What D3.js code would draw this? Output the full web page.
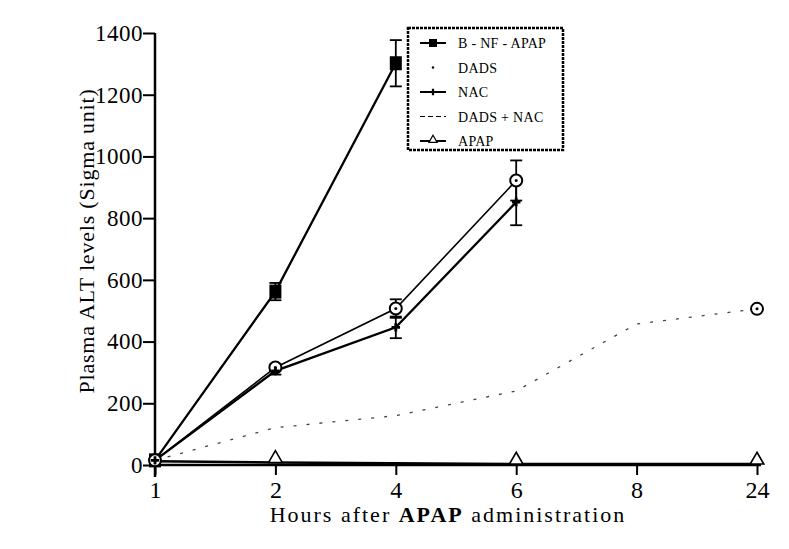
<!DOCTYPE html>
<html>
<head>
<meta charset="utf-8">
<script src="https://cdn.jsdelivr.net/npm/d3@7"></script>
<style>
  body { margin: 0; background: #fff; }
  text { font-family: "Liberation Serif", "DejaVu Serif", serif; fill: #000; }
</style>
</head>
<body>
<div id="chart"></div>
<script>
// Chart values
var hours = ["1", "2", "4", "6", "8", "24"];
var yTicks = [0, 200, 400, 600, 800, 1000, 1200, 1400];

var bnfHours = ["1", "2", "4"];
var bnfValues = [15, 562, 1302];
var bnfErr = [0, 28, 75];

var dadsHours = ["1", "2", "4", "6", "8", "24"];
var dadsValues = [15, 121, 160, 240, 457, 506];

var nacHours = ["1", "2", "4", "6"];
var nacValues = [15, 305, 446, 852];
var nacErr = [0, 12, 35, 75];

var dnHours = ["1", "2", "4", "6", "8", "24"];
var dnValues = [15, 316, 507, 922, null, 506];
var dnErr = [0, 10, 30, 65, 0, 0];

var apapHours = ["1", "2", "6", "24"];
var apapValues = [12, 8, 3, 3];

var legendNames = ["B - NF - APAP", "DADS", "NAC", "DADS + NAC", "APAP"];

// SVG and chart area
var svgWidth = 789;
var svgHeight = 549;
var margin = {top: 33, right: 32, bottom: 84, left: 155};
var width = svgWidth - margin.left - margin.right;
var height = svgHeight - margin.top - margin.bottom;

var svg = d3.select("#chart").append("svg")
  .attr("width", svgWidth).attr("height", svgHeight);

var chartGroup = svg.append("g")
  .attr("transform", `translate(${margin.left}, ${margin.top})`);

var xScale = d3.scalePoint().domain(hours).range([0, width]);
var yScale = d3.scaleLinear().domain([0, 1400]).range([height, 0]);

// axes
var xAxis = d3.axisBottom(xScale).tickSize(10).tickSizeOuter(0);
var yAxis = d3.axisLeft(yScale).tickValues(yTicks).tickFormat(d3.format("d"))
  .tickSize(12).tickSizeOuter(0);

var xAxisDraw = chartGroup.append("g")
  .attr("transform", `translate(0, ${height})`)
  .call(xAxis);
xAxisDraw.select(".domain").attr("stroke-width", 2.5).attr("d", `M-2,0H${width + 4}`);
xAxisDraw.selectAll(".tick line").attr("stroke-width", 2);
xAxisDraw.selectAll(".tick text").attr("font-size", "24px").attr("dy", "0.85em");

var yAxisDraw = chartGroup.append("g").call(yAxis);
yAxisDraw.select(".domain").attr("stroke-width", 2.5).attr("d", `M0,${height + 12}V0`);
yAxisDraw.selectAll(".tick line").attr("stroke-width", 2);
yAxisDraw.selectAll(".tick text").attr("font-size", "23px")
  .attr("letter-spacing", "0.5px")
  .attr("x", -12);

// axis titles
var xTitle = chartGroup.append("text")
  .attr("x", width / 2 - 8)
  .attr("y", height + 57)
  .attr("text-anchor", "middle")
  .attr("font-size", "22px")
  .attr("letter-spacing", "2px");
xTitle.append("tspan").text("Hours after ");
xTitle.append("tspan").attr("font-weight", "bold").text("APAP");
xTitle.append("tspan").text(" administration");

chartGroup.append("text")
  .attr("transform", "rotate(-90)")
  .attr("x", -height / 2 + 8)
  .attr("y", -margin.left + 94)
  .attr("text-anchor", "middle")
  .attr("font-size", "22px")
  .attr("letter-spacing", "0.8px")
  .text("Plasma ALT levels (Sigma unit)");

// helper to build point arrays
function pts(hs, vs, es) {
  return hs.map(function(h, i) {
    return {h: h, v: vs[i], e: es ? es[i] : 0};
  });
}

var line = d3.line()
  .defined(d => d.v != null)
  .x(d => xScale(d.h))
  .y(d => yScale(d.v));

var bnf = pts(bnfHours, bnfValues, bnfErr);
var dads = pts(dadsHours, dadsValues);
var nac = pts(nacHours, nacValues, nacErr);
var dn = pts(dnHours, dnValues, dnErr);
var apap = pts(apapHours, apapValues);

// lines
chartGroup.append("path").datum(dads).attr("d", line)
  .attr("fill", "none").attr("stroke", "#444").attr("stroke-width", 1.3)
  .attr("stroke-dasharray", "3,10");
chartGroup.append("path").datum(apap).attr("d", line)
  .attr("fill", "none").attr("stroke", "#000").attr("stroke-width", 2.5);
chartGroup.append("path").datum(dn).attr("d", line)
  .attr("fill", "none").attr("stroke", "#000").attr("stroke-width", 1.6);
chartGroup.append("path").datum(nac).attr("d", line)
  .attr("fill", "none").attr("stroke", "#000").attr("stroke-width", 2.3);
chartGroup.append("path").datum(bnf).attr("d", line)
  .attr("fill", "none").attr("stroke", "#000").attr("stroke-width", 2.3);

// error bars
function errorBars(data) {
  var g = chartGroup.append("g").attr("stroke", "#000").attr("stroke-width", 1.8);
  data.filter(d => d.v != null && d.e > 0).forEach(function(d) {
    var x = xScale(d.h);
    g.append("line").attr("x1", x).attr("x2", x)
      .attr("y1", yScale(d.v - d.e)).attr("y2", yScale(d.v + d.e));
    g.append("line").attr("x1", x - 6).attr("x2", x + 6)
      .attr("y1", yScale(d.v + d.e)).attr("y2", yScale(d.v + d.e));
    g.append("line").attr("x1", x - 6).attr("x2", x + 6)
      .attr("y1", yScale(d.v - d.e)).attr("y2", yScale(d.v - d.e));
  });
}
errorBars(bnf);
errorBars(nac);
errorBars(dn);

// markers
chartGroup.selectAll(".sq").data(bnf).enter().append("rect")
  .attr("x", d => xScale(d.h) - 6).attr("y", d => yScale(d.v) - 7)
  .attr("width", 12).attr("height", 14).attr("fill", "#000");

chartGroup.selectAll(".circ").data(dn.filter(d => d.v != null)).enter().append("circle")
  .attr("cx", d => xScale(d.h)).attr("cy", d => yScale(d.v)).attr("r", 6)
  .attr("fill", "#fff").attr("stroke", "#000").attr("stroke-width", 2);
chartGroup.selectAll(".circdot").data(dn.filter(d => d.v != null)).enter().append("circle")
  .attr("cx", d => xScale(d.h)).attr("cy", d => yScale(d.v)).attr("r", 1.5)
  .attr("fill", "#000");

chartGroup.selectAll(".nacm").data(nac).enter().append("path")
  .attr("transform", d => `translate(${xScale(d.h)},${yScale(d.v)})`)
  .attr("d", d3.symbol().type(d3.symbolCross).size(40))
  .attr("fill", "#000");

chartGroup.selectAll(".tri").data(apap.slice(1)).enter().append("path")
  .attr("transform", d => `translate(${xScale(d.h)},${yScale(d.v) - 4})`)
  .attr("d", d3.symbol().type(d3.symbolTriangle).size(80))
  .attr("fill", "#fff").attr("stroke", "#000").attr("stroke-width", 1.6);

// legend
var legend = svg.append("g").attr("transform", "translate(408, 28)");
legend.append("rect").attr("width", 155).attr("height", 122)
  .attr("fill", "#fff").attr("stroke", "#000").attr("stroke-width", 2.5)
  .attr("stroke-dasharray", "3,1");

legendNames.forEach(function(name, i) {
  var y = 15 + i * 24.5;
  var row = legend.append("g").attr("transform", `translate(0, ${y})`);
  if (i === 0 || i === 2 || i === 4) {
    row.append("line").attr("x1", 12).attr("x2", 38).attr("y1", 0).attr("y2", 0)
      .attr("stroke", "#000").attr("stroke-width", 2);
  }
  if (i === 3) {
    row.append("line").attr("x1", 12).attr("x2", 38).attr("y1", 0).attr("y2", 0)
      .attr("stroke", "#000").attr("stroke-width", 1.2).attr("stroke-dasharray", "5,3");
  }
  if (i === 0) row.append("rect").attr("x", 21).attr("y", -4).attr("width", 8).attr("height", 8).attr("fill", "#000");
  if (i === 1) row.append("circle").attr("cx", 25).attr("cy", 0).attr("r", 1.2).attr("fill", "#000");
  if (i === 2) row.append("path").attr("transform", "translate(25,0)")
    .attr("d", d3.symbol().type(d3.symbolCross).size(25)).attr("fill", "#000");
  if (i === 4) row.append("path").attr("transform", "translate(25,-1)")
    .attr("d", d3.symbol().type(d3.symbolTriangle).size(30))
    .attr("fill", "#fff").attr("stroke", "#000").attr("stroke-width", 1.2);
  row.append("text").attr("x", 50).attr("y", 5)
    .attr("font-size", "14px").attr("letter-spacing", "0.3px").text(name);
});
</script>
</body>
</html>
